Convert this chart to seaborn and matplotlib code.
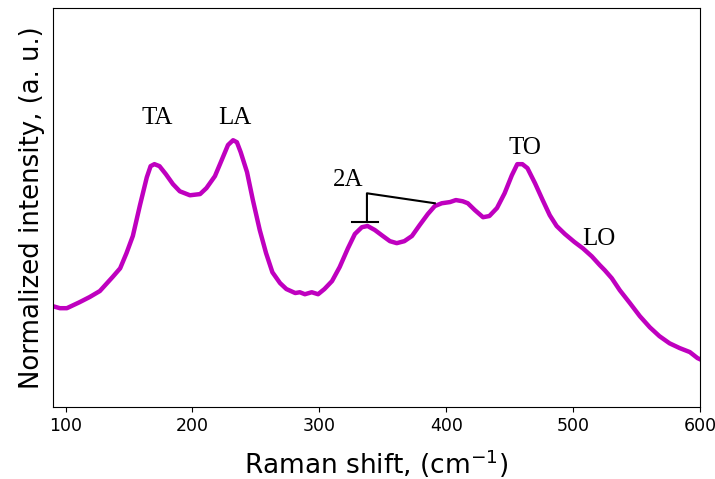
import numpy as np
import pandas as pd
import seaborn as sns
import matplotlib
matplotlib.use('Agg')
import matplotlib.pyplot as plt

# Raman spectrum (normalized, arbitrary units)
shift = [90, 95.5, 101, 111, 119, 127, 137, 143, 148, 153, 158.6, 164, 167, 170,
         174, 179, 184.6, 190, 198, 206, 211, 217.7, 223, 228, 232, 235, 238,
         243, 247.6, 253, 258, 263, 269, 274, 281, 284.6, 288.6, 294, 299, 304,
         310, 316, 322.5, 328, 333.5, 338, 343.7, 350, 355.6, 361, 367, 373,
         379, 385.5, 391, 396.5, 403, 407.6, 413, 417, 422.5, 429, 434, 440,
         446, 451.7, 456, 460, 464, 470, 476, 481.6, 487, 493.5, 501, 507.7,
         514.7, 521, 525, 530.5, 536.8, 544.7, 552.6, 560.5, 568, 576, 584,
         592, 598, 600]
intensity = [0.253, 0.248, 0.248, 0.263, 0.276, 0.291, 0.326, 0.348, 0.386,
             0.429, 0.506, 0.576, 0.604, 0.609, 0.604, 0.584, 0.559, 0.541,
             0.531, 0.534, 0.549, 0.579, 0.619, 0.657, 0.669, 0.664, 0.639,
             0.589, 0.519, 0.444, 0.386, 0.338, 0.311, 0.296, 0.286, 0.288,
             0.283, 0.288, 0.283, 0.296, 0.316, 0.351, 0.398, 0.434, 0.451,
             0.454, 0.444, 0.429, 0.416, 0.411, 0.416, 0.429, 0.456, 0.484,
             0.504, 0.511, 0.514, 0.519, 0.516, 0.511, 0.494, 0.476, 0.479,
             0.499, 0.536, 0.581, 0.609, 0.609, 0.599, 0.561, 0.519, 0.481,
             0.454, 0.434, 0.414, 0.398, 0.378, 0.356, 0.343, 0.323, 0.293,
             0.261, 0.228, 0.200, 0.178, 0.160, 0.148, 0.138, 0.123, 0.120]

# phonon mode labels and where they sit
mode_labels = ['TA', 'LA', '2A', 'TO', 'LO']
mode_x = [172, 233.4, 323, 462, 520]
mode_y = [0.724, 0.724, 0.569, 0.649, 0.421]

# bracket for the 2A band: (shift, intensity) of its corners
bracket_x = [337.5, 337.5, 391]
bracket_y = [0.464, 0.536, 0.511]
bar_x = [326, 346]
bar_y = [0.464, 0.464]

df = pd.DataFrame({'shift': shift, 'intensity': intensity})

fig = plt.figure(figsize=(7.15, 4.79), dpi=100)
ax = fig.add_axes([0.074, 0.150, 0.905, 0.833])
sns.lineplot(data=df, x='shift', y='intensity', color='m', lw=3.2, ax=ax)
ax.plot(bracket_x, bracket_y, color='k', lw=1.5)
ax.plot(bar_x, bar_y, color='k', lw=1.5)

for lab, x, y in zip(mode_labels, mode_x, mode_y):
    ax.text(x, y, lab, ha='center', va='center', fontsize=18,
            family='Liberation Serif')

ax.set_xlim(90, 600)
ax.set_ylim(0, 1)
ax.set_yticks([])
ax.tick_params(axis='x', labelsize=12.5)
ax.set_xlabel(r'Raman shift, (cm$^{-1}$)', fontsize=19, labelpad=9)
ax.set_ylabel('Normalized intensity, (a. u.)', fontsize=18.7, labelpad=6)

plt.savefig('out.png', dpi=100)
plt.close()
